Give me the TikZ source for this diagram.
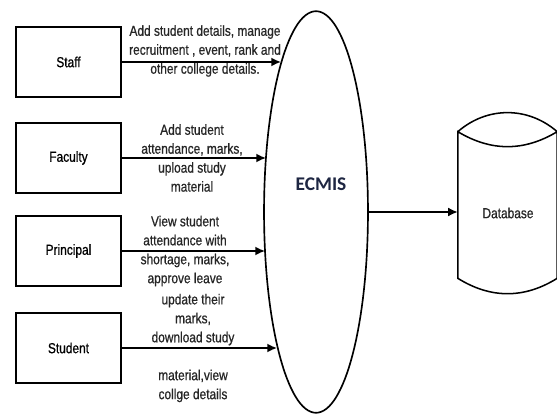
\documentclass[tikz,border=0pt]{standalone}
\usepackage{fontspec}
\setmainfont{Liberation Sans}[FakeStretch=0.82,FakeBold=0.7]
\newfontfamily\ecmisfont{Carlito}
\usetikzlibrary{shapes.geometric,arrows.meta}
\definecolor{ecmisblue}{RGB}{30,38,66}
\tikzset{actor/.style={draw,line width=1.3pt,minimum width=26.7mm,minimum height=17.8mm,font=\fontsize{10.5}{13.7}\selectfont}}
\tikzset{note/.style={align=center,inner sep=0pt,text=black!85,font=\fontsize{10.5}{13.7}\selectfont}}
\tikzset{flow/.style={line width=1.3pt,-{Latex[length=7pt,width=6.5pt]}}}
\begin{document}
\begin{tikzpicture}[x=0.254mm,y=-0.254mm]
      \useasboundingbox (0,0) rectangle (557,415);
      % the four users
      \node[actor] (staff) at (68.5,62) {Staff};
      \node[actor] (faculty) at (68.5,158) {Faculty};
      \node[actor] (principal) at (68.5,251) {Principal};
      \node[actor] (student) at (68.5,348) {Student};
      % system and database
      \node[ellipse,draw,line width=1.2pt,inner sep=0pt,minimum width=26.4mm,minimum height=102mm] (ecmis) at (316,212) {};
      \node[text=ecmisblue,font=\ecmisfont\fontsize{14}{16}\selectfont\bfseries] (ecmistext) at (321,184) {ECMIS};
      \node[inner sep=0pt,minimum width=25.1mm,minimum height=37.1mm] (db) at (507.5,205) {};
      \node[note] (dbtext) at (508,213) {Database};
      \draw[line width=1.1pt] (db.north west) to[bend left=41] (db.north east) to[bend left=31] (db.north west)
      -- (db.south west) to[bend right=32] (db.south east) -- (db.north east);
      % arrow ends on the ellipse
      \coordinate (staffin) at (281,62);
      \coordinate (facultyin) at (266,158);
      \coordinate (principalin) at (265,251);
      \coordinate (studentin) at (277,348);
      \draw[flow] (staff) -- (staffin);
      \draw[flow] (faculty) -- (facultyin);
      \draw[flow] (principal) -- (principalin);
      \draw[flow] (student) -- (studentin);
      \draw[flow] (ecmis.east) -- (ecmis.east -| db.west);
      % arrow texts
      \node[note] (staffnote) at (205,51) {Add student details, manage\\recruitment , event, rank and\\other college details.};
      \node[note] (facultynote) at (192,158) {Add student\\attendance, marks,\\upload study\\material};
      \node[note] (principalnote) at (185,251) {View student\\attendance with\\shortage, marks,\\approve leave};
      \node[note] (studentnote) at (193,348) {update their\\marks,\\download study\\[13.7pt]material,view\\collge details};
    \end{tikzpicture}
\end{document}
